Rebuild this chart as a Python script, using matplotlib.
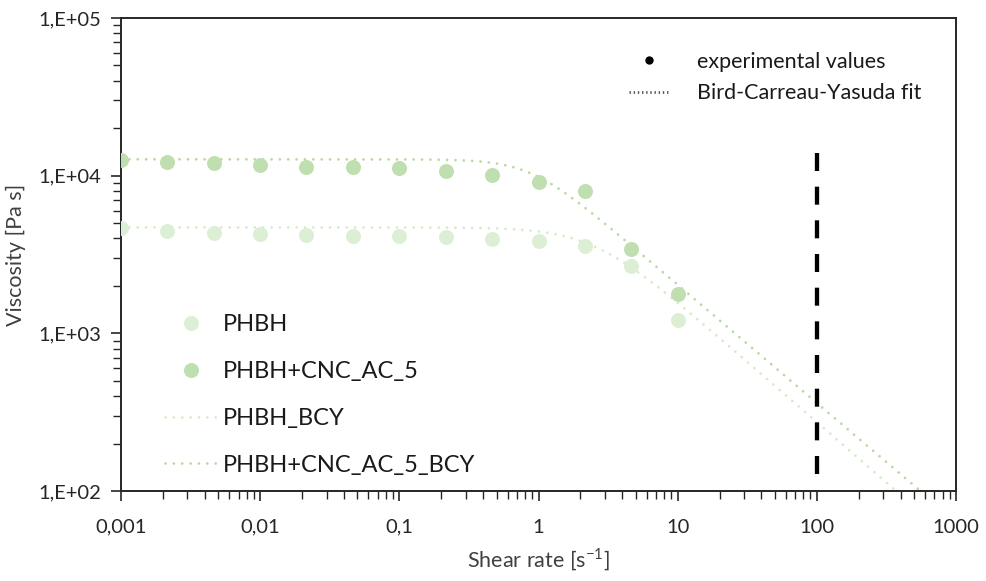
import numpy as np
import matplotlib
matplotlib.use("Agg")
import matplotlib.pyplot as plt
from matplotlib.lines import Line2D
from matplotlib.ticker import FixedLocator, FixedFormatter, LogLocator, NullFormatter

plt.rcParams['font.family'] = ['Lato', 'DejaVu Sans']

# Measured flow curves (shear rate in 1/s, viscosity in Pa s)
shear_rate = [0.001, 0.00215, 0.00464, 0.01, 0.0215, 0.0464, 0.1,
              0.215, 0.464, 1.0, 2.15, 4.64, 10.0]
visc_phbh = [4645, 4440, 4310, 4250, 4190, 4170, 4150,
             4065, 3950, 3840, 3590, 2667, 1208]
visc_phbh_cnc = [12570, 12130, 11970, 11740, 11410, 11300, 11130,
                 10710, 10050, 9125, 7960, 3435, 1782]

# Bird-Carreau-Yasuda parameters: eta0 [Pa s], lambda [s], a, n
bcy_phbh = dict(eta0=4700, lam=0.41, a=2.0, n=0.234)
bcy_phbh_cnc = dict(eta0=12700, lam=1.15, a=2.6, n=0.25)

# Cox-Merz limit marker (drawn top to bottom)
limit_rate = 100
limit_span = [14000, 126]

x_ticks = [0.001, 0.01, 0.1, 1, 10, 100, 1000]
x_tick_labels = ["0,001", "0,01", "0,1", "1", "10", "100", "1000"]
y_ticks = [1e2, 1e3, 1e4, 1e5]
y_tick_labels = ["1,E+02", "1,E+03", "1,E+04", "1,E+05"]

c_phbh = "#dcefd5"
c_cnc = "#c0dfb0"
c_phbh_line = "#d5ecca"
c_cnc_line = "#b6dba0"


def bcy(gd, eta0, lam, a, n):
    return eta0 * (1.0 + (lam * gd) ** a) ** ((n - 1.0) / a)


fig = plt.figure(figsize=(9.87, 5.81), dpi=100)
ax = fig.add_axes([0.1226, 0.1549, 0.8460, 0.8141])
ax.set_xscale("log")
ax.set_yscale("log")
ax.set_xlim(0.001, 1000)
ax.set_ylim(100, 1e5)

gd = np.logspace(-3, 3, 400)
dots = (0, (0.01, 3.0))
ax.plot(gd, bcy(gd, **bcy_phbh), color=c_phbh_line, lw=2.0,
        linestyle=dots, dash_capstyle="round", zorder=2)
ax.plot(gd, bcy(gd, **bcy_phbh_cnc), color=c_cnc_line, lw=2.0,
        linestyle=dots, dash_capstyle="round", zorder=2)

ax.plot(shear_rate, visc_phbh, "o", color=c_phbh, ms=10.8, mec="none", zorder=3)
ax.plot(shear_rate, visc_phbh_cnc, "o", color=c_cnc, ms=10.8, mec="none", zorder=3)

ax.plot([limit_rate, limit_rate], limit_span, color="black", lw=3.1,
        linestyle=(0, (4.18, 3.64)), dash_capstyle="butt", zorder=4)

# axes styling
for s in ax.spines.values():
    s.set_color("#262626")
    s.set_linewidth(1.4)

ax.xaxis.set_major_locator(FixedLocator(x_ticks))
ax.xaxis.set_major_formatter(FixedFormatter(x_tick_labels))
ax.xaxis.set_minor_locator(LogLocator(base=10, subs=np.arange(2, 10), numticks=20))
ax.xaxis.set_minor_formatter(NullFormatter())
ax.yaxis.set_major_locator(FixedLocator(y_ticks))
ax.yaxis.set_major_formatter(FixedFormatter(y_tick_labels))
ax.yaxis.set_minor_locator(LogLocator(base=10, subs=np.arange(2, 10), numticks=20))
ax.yaxis.set_minor_formatter(NullFormatter())

ax.tick_params(axis="both", which="major", direction="out", length=7, width=1.2,
               color="#262626", labelsize=14.5, labelcolor="#262626")
ax.tick_params(axis="both", which="minor", direction="out", length=6, width=1.0,
               color="#262626")
ax.tick_params(axis="x", which="major", pad=13)
ax.tick_params(axis="y", which="major", pad=7)

ax.set_xlabel("Shear rate [s$^{\\mathregular{-1}}$]", fontsize=15.5, color="#404040", labelpad=8)
ax.set_ylabel("Viscosity [Pa s]", fontsize=15.5, color="#404040", labelpad=9)

# series legend (lower left)
h1 = Line2D([], [], marker="o", ls="none", color=c_phbh, ms=10.8, mec="none")
h2 = Line2D([], [], marker="o", ls="none", color=c_cnc, ms=10.8, mec="none")
h3 = Line2D([], [], color=c_phbh_line, lw=2.0, ls=dots, dash_capstyle="round")
h4 = Line2D([], [], color=c_cnc_line, lw=2.0, ls=dots, dash_capstyle="round")
leg1 = ax.legend([h1, h2, h3, h4],
                 ["PHBH", "PHBH+CNC_AC_5", "PHBH_BCY", "PHBH+CNC_AC_5_BCY"],
                 loc="lower left", bbox_to_anchor=(0.027, -0.0127), frameon=False,
                 fontsize=17, labelspacing=1.1, handlelength=2.25,
                 handletextpad=0.2, labelcolor="#1a1a1a")
ax.add_artist(leg1)

# notation legend (upper right)
k1 = Line2D([], [], marker="o", ls="none", color="black", ms=6, mec="none")
k2 = Line2D([], [], color="#595959", lw=2.0, ls=(0, (0.5, 1.0)))
ax.legend([k1, k2], ["experimental values", "Bird-Carreau-Yasuda fit"],
          loc="upper left", bbox_to_anchor=(0.585, 0.970), frameon=False,
          fontsize=15.5, labelspacing=0.55, handlelength=1.86,
          handletextpad=1.3, labelcolor="#1a1a1a")

fig.savefig("out.png", dpi=100)
